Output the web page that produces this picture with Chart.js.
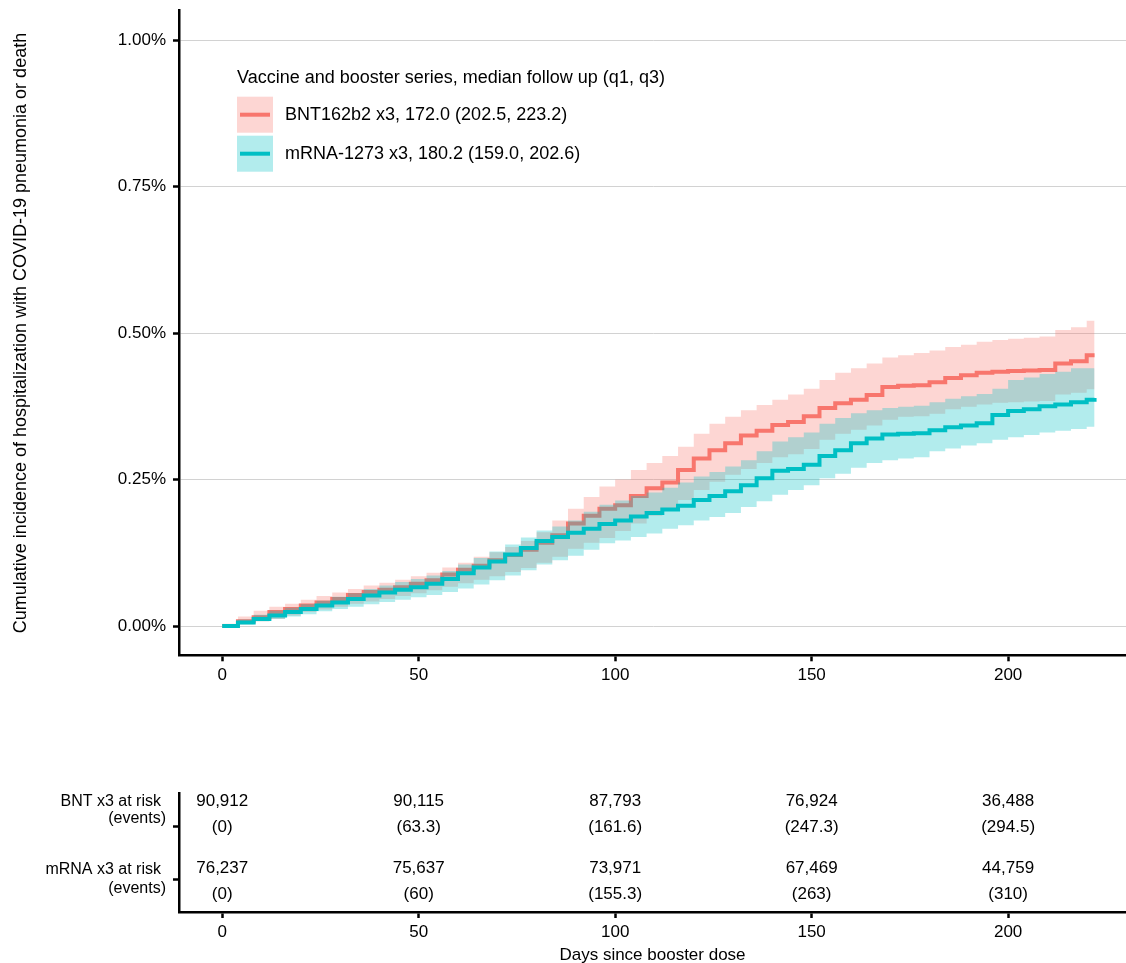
<!DOCTYPE html>
<html>
<head>
<meta charset="utf-8">
<title>Cumulative incidence by booster series</title>
<script src="https://cdn.jsdelivr.net/npm/chart.js@4.4.1/dist/chart.umd.min.js"></script>
<style>
  html, body { margin: 0; padding: 0; background: #fff; overflow: hidden; }
  #main { position: absolute; left: 0; top: 0; }
  #risk { position: absolute; left: 0; top: 770px; }
</style>
</head>
<body>
<canvas id="main" width="1126" height="720"></canvas>
<canvas id="risk" width="1126" height="200"></canvas>
<script>
// days since booster dose (estimate grid)
const days = [0, 4, 8, 12, 16, 20, 24, 28, 32, 36, 40, 44, 48, 52, 56, 60, 64, 68, 72, 76,
  80, 84, 88, 92, 96, 100, 104, 108, 112, 116, 120, 124, 128, 132, 136, 140, 144, 148, 152, 156,
  160, 164, 168, 172, 176, 180, 184, 188, 192, 196, 200, 204, 208, 212, 216, 220, 222];

// cumulative incidence, % (BNT162b2 x3)
const bntEst = [0.000, 0.008, 0.015, 0.024, 0.029, 0.035, 0.040, 0.046, 0.053, 0.058, 0.062, 0.066, 0.072, 0.078, 0.088, 0.096, 0.103, 0.112, 0.121, 0.130,
  0.142, 0.155, 0.175, 0.188, 0.200, 0.206, 0.222, 0.235, 0.245, 0.266, 0.286, 0.300, 0.312, 0.325, 0.333, 0.343, 0.348, 0.358, 0.372, 0.380,
  0.386, 0.394, 0.408, 0.410, 0.411, 0.416, 0.423, 0.428, 0.432, 0.434, 0.435, 0.436, 0.437, 0.448, 0.452, 0.462, 0.462];
const bntHi = [0.004, 0.016, 0.026, 0.033, 0.038, 0.045, 0.051, 0.057, 0.063, 0.069, 0.074, 0.079, 0.085, 0.091, 0.100, 0.108, 0.118, 0.126, 0.135, 0.145,
  0.160, 0.180, 0.200, 0.220, 0.238, 0.250, 0.266, 0.278, 0.290, 0.306, 0.328, 0.345, 0.357, 0.368, 0.377, 0.386, 0.395, 0.405, 0.420, 0.432,
  0.440, 0.448, 0.458, 0.462, 0.466, 0.470, 0.476, 0.480, 0.485, 0.488, 0.490, 0.492, 0.494, 0.505, 0.510, 0.521, 0.521];
const bntLo = [0.000, 0.003, 0.008, 0.012, 0.018, 0.024, 0.028, 0.033, 0.038, 0.042, 0.046, 0.051, 0.056, 0.061, 0.067, 0.073, 0.079, 0.085, 0.092, 0.099,
  0.108, 0.118, 0.132, 0.142, 0.150, 0.162, 0.175, 0.188, 0.200, 0.215, 0.232, 0.246, 0.258, 0.268, 0.278, 0.288, 0.293, 0.302, 0.318, 0.328,
  0.335, 0.342, 0.352, 0.357, 0.358, 0.362, 0.370, 0.374, 0.378, 0.381, 0.382, 0.383, 0.384, 0.395, 0.398, 0.404, 0.404];

// cumulative incidence, % (mRNA-1273 x3)
const mrnaEst = [0.000, 0.006, 0.012, 0.018, 0.024, 0.029, 0.035, 0.040, 0.046, 0.052, 0.057, 0.062, 0.066, 0.072, 0.080, 0.090, 0.100, 0.110, 0.122, 0.133,
  0.145, 0.152, 0.159, 0.166, 0.174, 0.180, 0.187, 0.193, 0.199, 0.205, 0.215, 0.222, 0.230, 0.240, 0.252, 0.265, 0.268, 0.275, 0.290, 0.300,
  0.312, 0.320, 0.327, 0.328, 0.329, 0.334, 0.339, 0.342, 0.346, 0.360, 0.367, 0.370, 0.375, 0.378, 0.382, 0.386, 0.389];
const mrnaHi = [0.002, 0.011, 0.019, 0.026, 0.031, 0.037, 0.043, 0.050, 0.056, 0.063, 0.069, 0.075, 0.080, 0.086, 0.094, 0.105, 0.116, 0.127, 0.139, 0.151,
  0.163, 0.170, 0.180, 0.195, 0.207, 0.214, 0.222, 0.228, 0.236, 0.245, 0.255, 0.263, 0.272, 0.283, 0.298, 0.315, 0.322, 0.330, 0.345, 0.355,
  0.363, 0.368, 0.372, 0.374, 0.376, 0.382, 0.388, 0.392, 0.396, 0.405, 0.420, 0.424, 0.430, 0.434, 0.440, 0.440, 0.440];
const mrnaLo = [0.000, 0.003, 0.008, 0.012, 0.016, 0.020, 0.025, 0.029, 0.033, 0.037, 0.041, 0.045, 0.049, 0.053, 0.058, 0.064, 0.071, 0.078, 0.086, 0.095,
  0.105, 0.112, 0.120, 0.130, 0.141, 0.146, 0.152, 0.158, 0.166, 0.172, 0.180, 0.186, 0.193, 0.203, 0.213, 0.224, 0.232, 0.240, 0.252, 0.260,
  0.270, 0.278, 0.283, 0.286, 0.288, 0.298, 0.303, 0.308, 0.312, 0.318, 0.322, 0.326, 0.330, 0.333, 0.336, 0.340, 0.340];

const xTicks = [0, 50, 100, 150, 200];
const yTicks = [0, 0.25, 0.5, 0.75, 1.0];

const seriesNames = ['BNT162b2 x3, 172.0 (202.5, 223.2)', 'mRNA-1273 x3, 180.2 (159.0, 202.6)'];
const legendTitle = 'Vaccine and booster series, median follow up (q1, q3)';

// risk table
const riskDays = [0, 50, 100, 150, 200];
const bntAtRisk = [90912, 90115, 87793, 76924, 36488];
const bntEvents = [0, 63.3, 161.6, 247.3, 294.5];
const mrnaAtRisk = [76237, 75637, 73971, 67469, 44759];
const mrnaEvents = [0, 60, 155.3, 263, 310];
const riskLabels = [['BNT x3 at risk', '(events)'], ['mRNA x3 at risk', '(events)']];

const RED = '#F8766D';
const TEAL = '#00BFC4';
const RED_FILL = 'rgba(248,118,109,0.3)';
const TEAL_FILL = 'rgba(0,191,196,0.3)';
const FONT = "'Liberation Sans', Arial, sans-serif";

Chart.defaults.font.family = FONT;
Chart.defaults.color = '#000';

const pts = ys => days.map((d, i) => ({ x: d, y: ys[i] }));

const bandSet = (ys, fillColor, fill, order) => ({
  data: pts(ys), stepped: true, fill: fill, backgroundColor: fillColor,
  borderColor: 'rgba(0,0,0,0)', borderWidth: 0, pointRadius: 0, order: order
});
const lineSet = (ys, color, order) => ({
  data: pts(ys), stepped: true, fill: false, borderColor: color,
  borderWidth: 4, pointRadius: 0, order: order
});

// keep the panel edges where the layout padding puts them
const noEdgePad = s => { s.paddingTop = 0; s.paddingBottom = 0; s.paddingLeft = 0; s.paddingRight = 0; };

const axisX = (height) => ({
  type: 'linear', min: -11, max: 230,
  afterBuildTicks: s => { s.ticks = xTicks.map(v => ({ value: v })); },
  afterFit: s => { s.height = height; noEdgePad(s); },
  grid: { drawOnChartArea: false, tickLength: 6, tickColor: '#000', tickWidth: 2.5 },
  border: { display: true, color: '#000', width: 2.5 },
  ticks: { font: { size: 17 }, color: '#000', padding: 4, maxRotation: 0 }
});

// legend drawn inside the panel
const keyLegend = {
  id: 'keyLegend',
  afterDraw(chart) {
    const ctx = chart.ctx;
    const a = chart.chartArea;
    const x0 = a.left + 58;
    ctx.save();
    ctx.textBaseline = 'middle';
    ctx.textAlign = 'left';
    ctx.fillStyle = '#000';
    ctx.font = '18px ' + FONT;
    ctx.fillText(legendTitle, x0, a.top + 67);
    [[RED, RED_FILL], [TEAL, TEAL_FILL]].forEach((c, i) => {
      const top = a.top + 86 + i * 39;
      ctx.fillStyle = c[1];
      ctx.fillRect(x0, top, 36, 36);
      ctx.strokeStyle = c[0];
      ctx.lineWidth = 4;
      ctx.beginPath();
      ctx.moveTo(x0 + 3, top + 18);
      ctx.lineTo(x0 + 33, top + 18);
      ctx.stroke();
      ctx.fillStyle = '#000';
      ctx.fillText(seriesNames[i], x0 + 48, top + 18);
    });
    ctx.restore();
  }
};

new Chart(document.getElementById('main'), {
  type: 'line',
  data: {
    datasets: [
      bandSet(bntHi, RED_FILL, '+1', 6),
      bandSet(bntLo, RED_FILL, false, 5),
      lineSet(bntEst, RED, 4),
      bandSet(mrnaHi, TEAL_FILL, '+1', 3),
      bandSet(mrnaLo, TEAL_FILL, false, 2),
      lineSet(mrnaEst, TEAL, 1)
    ]
  },
  options: {
    responsive: false,
    animation: false,
    layout: { padding: { top: 10.7, left: 0, right: 0, bottom: 0 } },
    plugins: { legend: { display: false }, tooltip: { enabled: false } },
    scales: {
      x: axisX(64.7),
      y: {
        type: 'linear', min: -0.05, max: 1.05,
        afterBuildTicks: s => { s.ticks = yTicks.map(v => ({ value: v })); },
        afterFit: s => { s.width = 179; noEdgePad(s); },
        grid: { color: '#d2d2d2', lineWidth: 1, tickLength: 6, tickColor: '#000', tickWidth: 2.5 },
        border: { display: true, color: '#000', width: 2.5 },
        ticks: { font: { size: 17 }, color: '#000', padding: 7, callback: v => v.toFixed(2) + '%' },
        title: {
          display: true,
          text: 'Cumulative incidence of hospitalization with COVID-19 pneumonia or death',
          font: { size: 18 }, color: '#000', padding: { top: 10 }
        }
      }
    }
  },
  plugins: [keyLegend]
});

// rows of the risk table, in panel units (0 = top, 1 = bottom)
const rowTicks = [0.283, 0.723];
const rowText = [[0.073, 0.288], [0.633, 0.849]];
const rowLabelY = [[0.073, 0.213], [0.647, 0.801]];

const riskTable = {
  id: 'riskTable',
  afterDraw(chart) {
    const ctx = chart.ctx;
    const xs = chart.scales.x;
    const ys = chart.scales.y;
    const groups = [[bntAtRisk, bntEvents], [mrnaAtRisk, mrnaEvents]];
    ctx.save();
    ctx.fillStyle = '#000';
    ctx.textBaseline = 'middle';
    ctx.font = '17px ' + FONT;
    ctx.textAlign = 'center';
    groups.forEach((g, r) => {
      riskDays.forEach((d, i) => {
        const px = xs.getPixelForValue(d);
        ctx.fillText(g[0][i].toLocaleString('en-US'), px, ys.getPixelForValue(rowText[r][0]));
        ctx.fillText('(' + g[1][i] + ')', px, ys.getPixelForValue(rowText[r][1]));
      });
    });
    ctx.font = '16px ' + FONT;
    ctx.textAlign = 'right';
    riskLabels.forEach((lab, r) => {
      ctx.fillText(lab[0], xs.left - 18, ys.getPixelForValue(rowLabelY[r][0]));
      ctx.fillText(lab[1], xs.left - 13, ys.getPixelForValue(rowLabelY[r][1]));
    });
    ctx.restore();
  }
};

const riskX = axisX(58);
riskX.title = { display: true, text: 'Days since booster dose', font: { size: 17 }, color: '#000', padding: { top: 0, bottom: 4.8 } };

new Chart(document.getElementById('risk'), {
  type: 'line',
  data: { datasets: [] },
  options: {
    responsive: false,
    animation: false,
    layout: { padding: { top: 23, left: 0, right: 0, bottom: 0 } },
    plugins: { legend: { display: false }, tooltip: { enabled: false } },
    scales: {
      x: riskX,
      y: {
        type: 'linear', min: 0, max: 1, reverse: true,
        afterBuildTicks: s => { s.ticks = rowTicks.map(v => ({ value: v })); },
        afterFit: s => { s.width = 179; noEdgePad(s); },
        grid: { drawOnChartArea: false, tickLength: 6, tickColor: '#000', tickWidth: 2.5 },
        border: { display: true, color: '#000', width: 2.5 },
        ticks: { callback: () => '' }
      }
    }
  },
  plugins: [riskTable]
});
</script>
</body>
</html>
